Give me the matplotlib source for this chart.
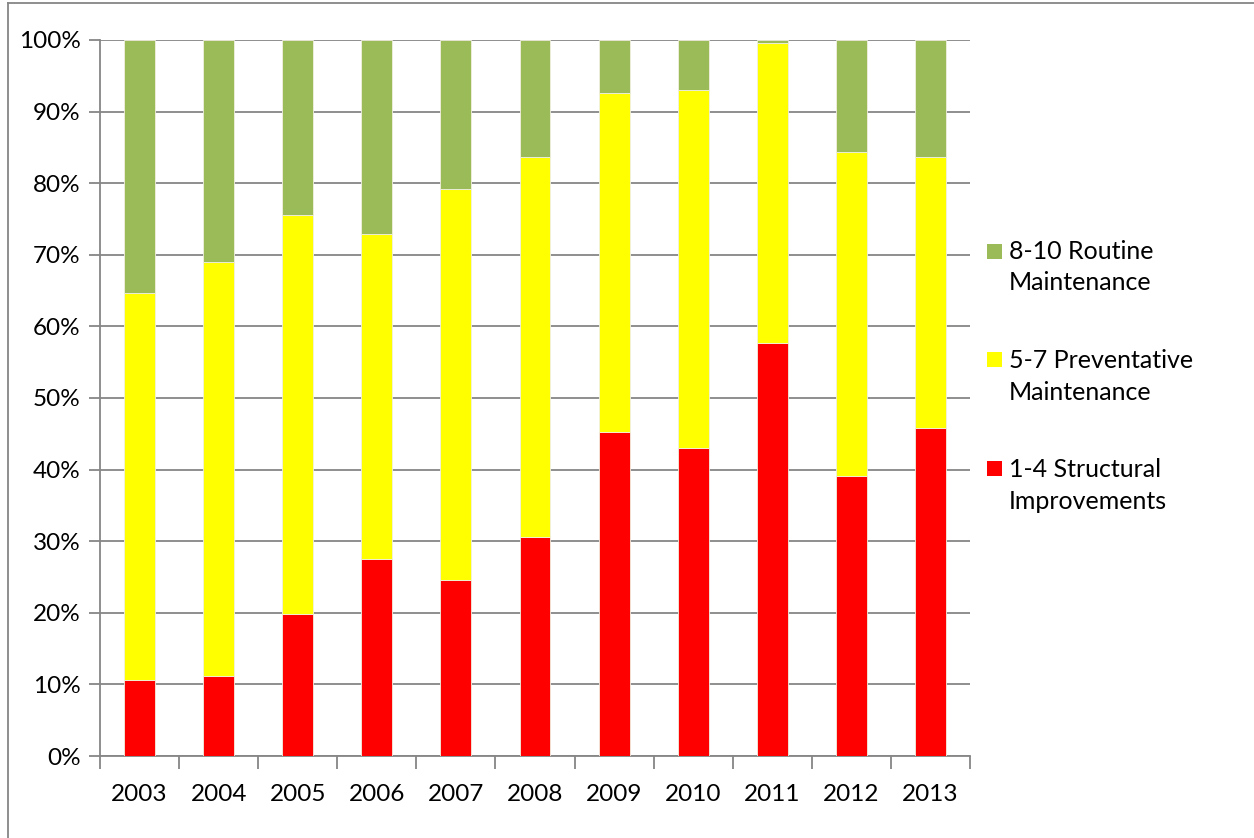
import matplotlib
matplotlib.use("Agg")
import matplotlib.pyplot as plt
import numpy as np
from matplotlib.patches import Rectangle
from matplotlib.lines import Line2D

plt.rcParams['font.family'] = ['Lato', 'DejaVu Sans']

years = ['2003', '2004', '2005', '2006', '2007', '2008', '2009', '2010', '2011', '2012', '2013']
structural = [10.6, 11.2, 19.8, 27.5, 24.6, 30.6, 45.3, 43.0, 57.7, 39.1, 45.8]
preventative_top = [64.6, 69.0, 75.5, 72.9, 79.2, 83.7, 92.6, 93.0, 99.6, 84.4, 83.6]
preventative = [round(t - s, 1) for t, s in zip(preventative_top, structural)]
routine = [round(100 - t, 1) for t in preventative_top]

labels = ['1-4 Structural\nImprovements', '5-7 Preventative\nMaintenance', '8-10 Routine\nMaintenance']
colors = ['#FF0000', '#FFFF00', '#9BBB59']

W, H = 1254, 838
fig = plt.figure(figsize=(W/100, H/100), dpi=100)
ax = fig.add_axes([100/W, 1-756/H, 870/W, 716/H])

x = np.arange(len(years))
w = 0.39
ax.bar(x, structural, w, color=colors[0], edgecolor='#F0F0E0', linewidth=0.6, zorder=3)
ax.bar(x, preventative, w, bottom=structural, color=colors[1], edgecolor='#F0F0E0', linewidth=0.6, zorder=3)
ax.bar(x, routine, w, bottom=preventative_top, color=colors[2], edgecolor='#F0F0E0', linewidth=0.6, zorder=3)

ax.set_xlim(-0.5, len(years) - 0.5)
ax.set_ylim(0, 100)
ax.set_yticks(np.arange(0, 101, 10))
ax.set_yticklabels([f'{v}%' for v in range(0, 101, 10)])
ax.yaxis.grid(True, color='#868686', linewidth=1.3, zorder=0)
ax.set_axisbelow(True)

ax.set_xticks(x)
ax.set_xticklabels(years)
ax.tick_params(axis='x', length=0, pad=20, labelsize=17.5)
ax.tick_params(axis='y', length=8, width=1.3, color='#868686', pad=6, labelsize=17.5)
ax.set_xticks(np.arange(-0.5, len(years), 1), minor=True)
ax.tick_params(axis='x', which='minor', length=9, width=1.3, color='#868686', direction='out')

for s in ['top', 'right']:
    ax.spines[s].set_visible(False)
for s in ['left', 'bottom']:
    ax.spines[s].set_color('#868686')
    ax.spines[s].set_linewidth(1.3)

# manual legend (top entry = top series)
entry_y = [251, 360, 469]
for i, (lab, col) in enumerate(zip(labels[::-1], colors[::-1])):
    yc = entry_y[i]
    fig.add_artist(Rectangle((987/W, 1-(yc+7.5)/H), 15/W, 15/H, transform=fig.transFigure,
                             facecolor=col, edgecolor='none'))
    for j, line in enumerate(lab.split('\n')):
        fig.text(1009/W, 1-(yc + 32*j)/H, line, fontsize=18, va='center', ha='left')

# figure border
fig.add_artist(Line2D([8/W, 8/W], [0, 1-3/H], transform=fig.transFigure, color='#868686', linewidth=1.3))
fig.add_artist(Line2D([8/W, 1], [1-3/H, 1-3/H], transform=fig.transFigure, color='#868686', linewidth=1.3))

fig.savefig('out.png', dpi=100)
